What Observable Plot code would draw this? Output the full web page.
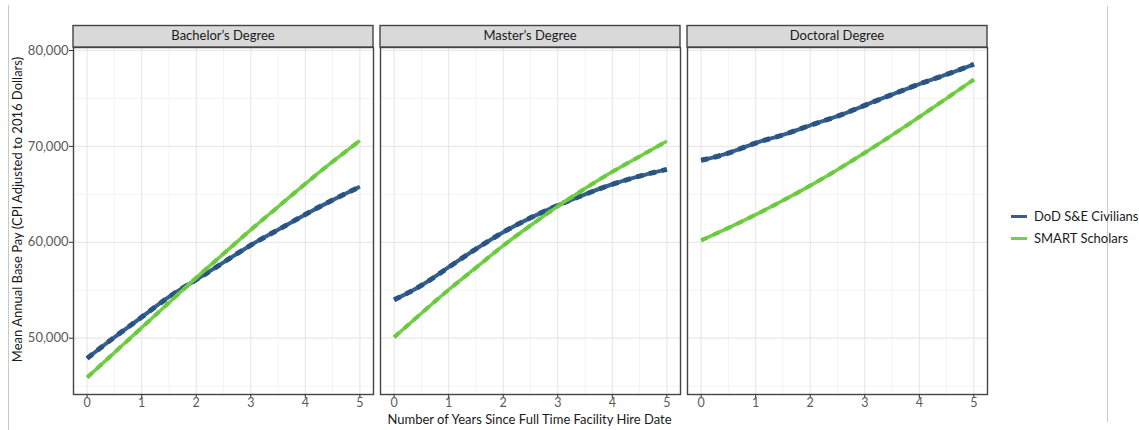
<!DOCTYPE html>
<html><head><meta charset="utf-8">
<script src="https://cdn.jsdelivr.net/npm/d3@7"></script>
<script src="https://cdn.jsdelivr.net/npm/@observablehq/plot@0.6"></script>
<style>
body{margin:0;background:#fff;font-family:Lato,sans-serif;}
#wrap{position:relative;width:1139px;height:430px;overflow:hidden;}
.vline{position:absolute;width:1px;background:#c9c9c9;}
#legend{position:absolute;left:1011px;top:205px;font-size:13px;color:#1a1a1a;}
.item{display:flex;align-items:center;height:22px;white-space:nowrap;}
.sw{width:16px;height:3px;margin-right:7px;}
</style></head><body>
<div id="wrap">
<div class="vline" style="left:8px;top:5px;height:425px"></div>
<div class="vline" style="left:1107px;top:6px;height:416px"></div>
<div id="chart"></div>
<div id="legend"></div>
</div>
<script>
const degrees = ["Bachelor’s Degree", "Master’s Degree", "Doctoral Degree"];
const groups = ["DoD S&E Civilians", "SMART Scholars"];
const groupColors = ["#33608f", "#74cf48"];
const dashColors = ["#2a5382", "#6ac93f"];
const years = [0, 0.5, 1, 1.5, 2, 2.5, 3, 3.5, 4, 4.5, 5];

const dodBachelor   = [47900, 50100, 52200, 54300, 56100, 57900, 59700, 61300, 62900, 64400, 65800];
const smartBachelor = [45900, 48500, 51100, 53700, 56300, 58800, 61300, 63700, 66100, 68400, 70600];
const dodMaster     = [54000, 55500, 57400, 59300, 61050, 62550, 63850, 65000, 66050, 66900, 67600];
const smartMaster   = [50100, 52600, 55050, 57350, 59650, 61750, 63750, 65600, 67350, 68950, 70550];
const dodDoctoral   = [68550, 69300, 70350, 71200, 72200, 73150, 74280, 75400, 76500, 77500, 78560];
const smartDoctoral = [60200, 61500, 62880, 64350, 65910, 67570, 69330, 71170, 73070, 75010, 76970];

const yMajor = [50000, 60000, 70000, 80000];
const yMinor = [45000, 55000, 65000, 75000];
const xMajor = [0, 1, 2, 3, 4, 5];
const xMinor = [0.5, 1.5, 2.5, 3.5, 4.5];

const xTitle = "Number of Years Since Full Time Facility Hire Date";
const yTitle = "Mean Annual Base Pay (CPI Adjusted to 2016 Dollars)";

const seriesTable = [
  [degrees[0], groups[0], dodBachelor], [degrees[0], groups[1], smartBachelor],
  [degrees[1], groups[0], dodMaster],   [degrees[1], groups[1], smartMaster],
  [degrees[2], groups[0], dodDoctoral], [degrees[2], groups[1], smartDoctoral]
];
const rows = [];
for (const [degree, group, vals] of seriesTable) {
  vals.forEach((v, i) => rows.push({degree, group, year: years[i], pay: v}));
}
const dod = rows.filter(d => d.group === groups[0]);
const smart = rows.filter(d => d.group === groups[1]);

const lineOpts = (data, i, w, dash) => Plot.line(data, {
  fx: "degree", x: "year", y: "pay", z: "degree",
  stroke: dash ? dashColors[i] : groupColors[i], strokeWidth: w,
  strokeDasharray: dash ? "7,6" : null, curve: "natural", strokeLinecap: "butt"
});

const plot = Plot.plot({
  width: 1139, height: 430,
  marginLeft: 72, marginRight: 152, marginTop: 47, marginBottom: 36,
  style: {fontFamily: "Lato, sans-serif", fontSize: "13px", background: "transparent", overflow: "visible"},
  fx: {domain: degrees, paddingInner: 0.0244, paddingOuter: 0, axis: null},
  x: {domain: [-0.25, 5.25]},
  y: {domain: [44130, 80310]},
  marks: [
    Plot.gridY(yMinor, {stroke: "#f4f4f4", strokeOpacity: 1, strokeWidth: 1}),
    Plot.gridX(xMinor, {stroke: "#f4f4f4", strokeOpacity: 1, strokeWidth: 1}),
    Plot.gridY(yMajor, {stroke: "#e9e9e9", strokeOpacity: 1, strokeWidth: 1.2}),
    Plot.gridX(xMajor, {stroke: "#e9e9e9", strokeOpacity: 1, strokeWidth: 1.2}),
    lineOpts(dod, 0, 4, false),
    lineOpts(dod, 0, 5, true),
    lineOpts(smart, 1, 3.5, false),
    lineOpts(smart, 1, 4, true),
    Plot.frame({stroke: "#444", strokeWidth: 1.4}),
    Plot.axisY(yMajor, {tickFormat: d3.format(","), tickSize: 4, tickPadding: 1, stroke: "#333", fill: "#5a5a5a", label: null, fontSize: 13}),
    Plot.axisX(xMajor, {tickSize: 4, tickPadding: 0, stroke: "#333", fill: "#5a5a5a", label: null, fontSize: 12.5})
  ]
});
document.getElementById("chart").appendChild(plot);

// facet strip headers and axis titles
const fx = plot.scale("fx");
const svg = d3.select(plot);
const g = svg.append("g");
degrees.forEach(d => {
  const x0 = fx.apply(d);
  const bw = fx.bandwidth;
  g.append("rect").attr("x", x0).attr("y", 25.5).attr("width", bw).attr("height", 21.5)
    .attr("fill", "#d9d9d9").attr("stroke", "#444").attr("stroke-width", 1.4);
  g.append("text").attr("x", x0 + bw / 2).attr("y", 36.5).attr("text-anchor", "middle")
    .attr("dominant-baseline", "middle").attr("fill", "#1a1a1a").attr("font-size", 13).text(d);
});
g.append("text").attr("transform", "translate(19,209.5) rotate(-90)").attr("text-anchor", "middle")
  .attr("dominant-baseline", "middle").attr("fill", "#1a1a1a").attr("font-size", 13).text(yTitle);
g.append("text").attr("x", 529.5).attr("y", 421).attr("text-anchor", "middle")
  .attr("dominant-baseline", "middle").attr("fill", "#1a1a1a").attr("font-size", 13).text(xTitle);

// legend
const legend = d3.select("#legend");
groups.forEach((name, i) => {
  const it = legend.append("div").attr("class", "item");
  it.append("div").attr("class", "sw").style("background", groupColors[i]);
  it.append("span").text(name);
});
</script>
</body></html>
